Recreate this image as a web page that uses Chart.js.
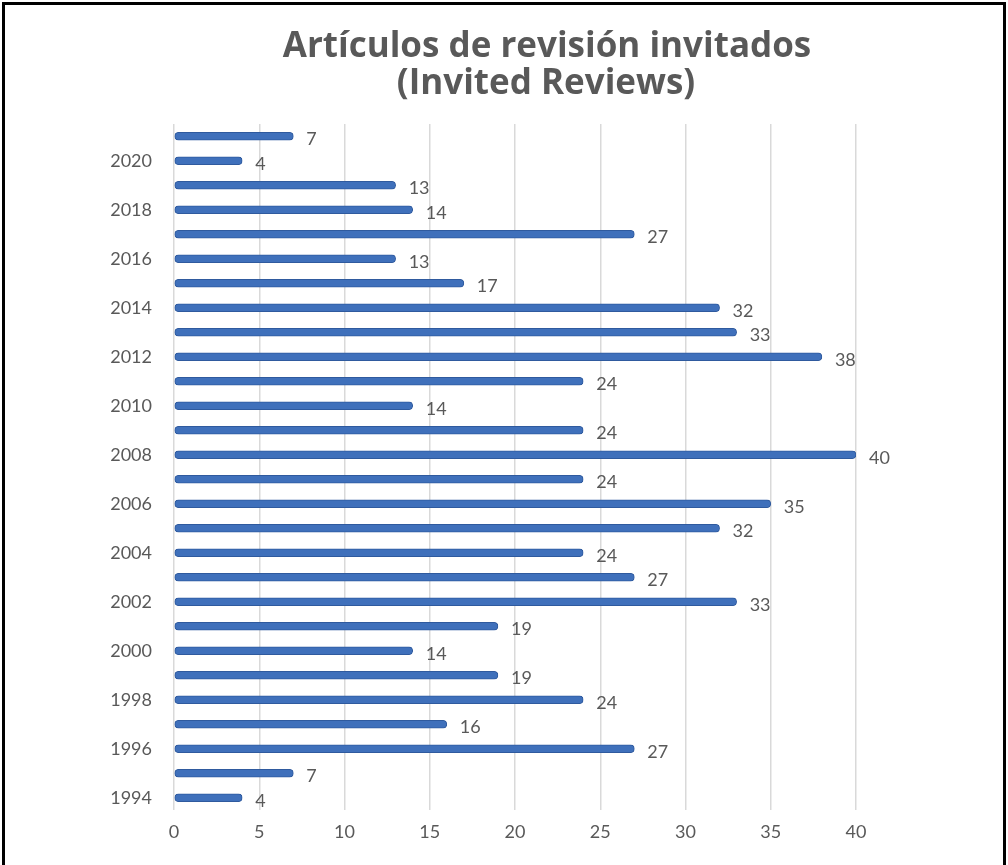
<!DOCTYPE html>
<html lang="es">
<head>
    <meta charset="UTF-8">
    <title>Artículos de revisión invitados</title>
    <script src="https://cdn.jsdelivr.net/npm/chart.js"></script>
    <style>
        html, body { margin: 0; padding: 0; background: #fff; overflow: hidden; }
        .chart-container { position: relative; width: 1008px; height: 865px; }
        .frame {
            position: absolute; left: 2px; top: 2px; width: 998px; height: 900px;
            border: 3px solid #000; pointer-events: none;
        }
    </style>
</head>
<body>
    <div class="chart-container">
        <canvas id="reviews-chart"></canvas>
        <div class="frame"></div>
    </div>
    <script>
        // datos (de abajo hacia arriba)
        const years = ['1994', '1995', '1996', '1997', '1998', '1999', '2000', '2001', '2002', '2003',
                       '2004', '2005', '2006', '2007', '2008', '2009', '2010', '2011', '2012', '2013',
                       '2014', '2015', '2016', '2017', '2018', '2019', '2020', '2021'];
        const reviews = [4, 7, 27, 16, 24, 19, 14, 19, 33, 27,
                         24, 32, 35, 24, 40, 24, 14, 24, 38, 33,
                         32, 17, 13, 27, 14, 13, 4, 7];
        const titleLines = ['Artículos de revisión invitados', '(Invited Reviews)'];
        const xTicks = [0, 5, 10, 15, 20, 25, 30, 35, 40];

        const textColor = '#595959';

        // titulo en dos lineas
        const titlePlugin = {
            id: 'titleText',
            afterDraw(chart) {
                const c = chart.ctx;
                c.save();
                c.fillStyle = textColor;
                c.font = 'bold 35px "Open Sans"';
                c.textAlign = 'center';
                c.textBaseline = 'middle';
                c.fillText(titleLines[0], 547, 47);
                c.fillText(titleLines[1], 546, 84);
                c.restore();
            }
        };

        // etiquetas de valor al final de cada barra
        const valueLabels = {
            id: 'valueLabels',
            afterDatasetsDraw(chart) {
                const c = chart.ctx;
                const meta = chart.getDatasetMeta(0);
                c.save();
                c.fillStyle = textColor;
                c.font = '18px Lato';
                c.textAlign = 'left';
                c.textBaseline = 'middle';
                meta.data.forEach(function(bar, i) {
                    c.fillText(reviews[i], bar.x + 13, bar.y + 3);
                });
                c.restore();
            }
        };

        const ctx = document.getElementById('reviews-chart').getContext('2d');
        new Chart(ctx, {
            type: 'bar',
            data: {
                labels: years,
                datasets: [{
                    data: reviews,
                    backgroundColor: '#3f70bb',
                    borderColor: '#2f5a9e',
                    borderWidth: 1,
                    borderSkipped: false,
                    borderRadius: 4,
                    barThickness: 8
                }]
            },
            plugins: [titlePlugin, valueLabels],
            options: {
                indexAxis: 'y',
                responsive: true,
                maintainAspectRatio: false,
                animation: false,
                layout: { padding: { top: 124, right: 152, bottom: 0, left: 0 } },
                plugins: {
                    legend: { display: false },
                    title: { display: false },
                    tooltip: { enabled: false }
                },
                scales: {
                    x: {
                        min: 0,
                        max: 40,
                        afterFit: function(scale) { scale.height = 55; },
                        afterBuildTicks: function(scale) {
                            scale.ticks = xTicks.map(function(v) { return { value: v }; });
                        },
                        grid: { color: '#d9d9d9', lineWidth: 1.5, drawTicks: false },
                        border: { display: false },
                        ticks: { color: textColor, font: { family: 'Lato', size: 18 }, padding: 11 }
                    },
                    y: {
                        reverse: true,
                        afterFit: function(scale) { scale.width = 174; },
                        grid: { display: false, drawTicks: false },
                        border: { display: false },
                        ticks: {
                            autoSkip: false,
                            color: textColor,
                            font: { family: 'Lato', size: 18 },
                            padding: 22,
                            callback: function(value) {
                                const label = this.getLabelForValue(value);
                                return Number(label) % 2 === 0 ? label : '';
                            }
                        }
                    }
                }
            }
        });
    </script>
</body>
</html>
